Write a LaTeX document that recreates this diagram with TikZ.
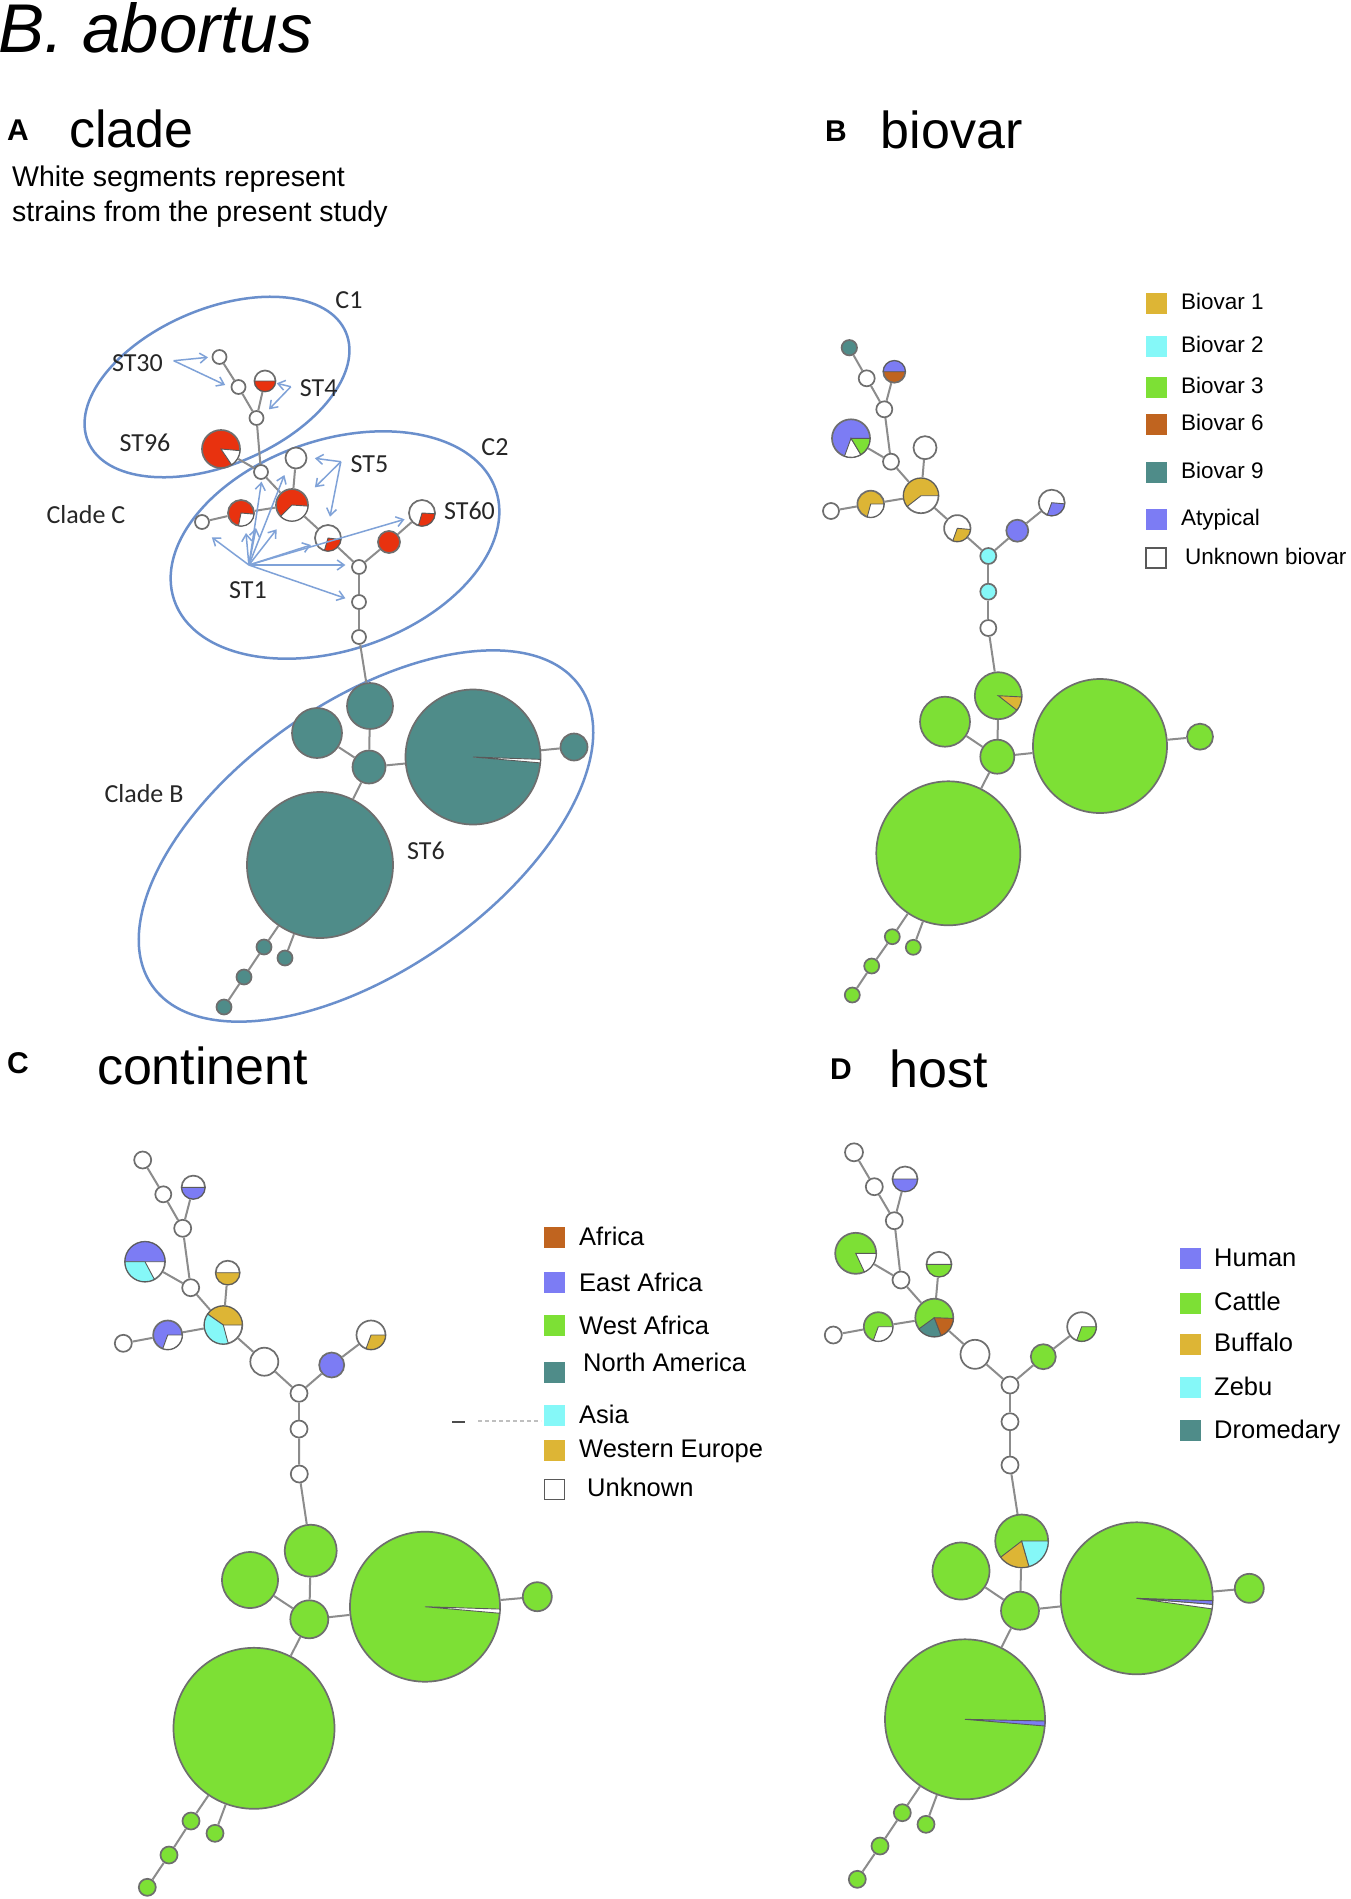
\documentclass[tikz,border=0pt]{standalone}
\usepackage{fontspec}
\setmainfont{Liberation Sans}
\newfontfamily\calib{Carlito}
\usetikzlibrary{arrows.meta}
\definecolor{cteal}{HTML}{4F8C89}
\definecolor{cgreen}{HTML}{7DE035}
\definecolor{cpurple}{HTML}{7C7CF4}
\definecolor{cgold}{HTML}{DDB535}
\definecolor{ccyan}{HTML}{85F8F8}
\definecolor{cbrown}{HTML}{C0641F}
\definecolor{cred}{HTML}{E8320F}
\definecolor{ellblue}{HTML}{6A8FCC}
\definecolor{arrblue}{HTML}{7FA2D8}
\definecolor{nodegray}{HTML}{6E6E6E}
\definecolor{edgegray}{HTML}{8C8C8C}
\newcommand\myfs[1]{\fontsize{#1}{#1}\selectfont}
\newcommand\nd[5]{\node[stnode, minimum size={2*#4pt}, fill=#5] (#1) at (#2,#3) {};}
\newcommand\slc[5]{\filldraw[fill=#5, draw=black!65, line width=0.9pt] (#1.center) -- ++(#3:#2) arc[start angle=#3, end angle=#4, radius=#2] -- cycle;}
\tikzset{
  stnode/.style={circle, draw=nodegray, line width=1.7pt, inner sep=0pt},
  edge/.style={draw=edgegray, line width=2pt},
  ell/.style={draw=ellblue, line width=2.5pt},
  arr/.style={draw=arrblue, line width=1.5pt, -{Straight Barb[length=7pt, width=10pt, line width=1.5pt]}},
  lab/.style={font=\calib\myfs{26}, inner sep=0pt, text=black!85},
  title/.style={font=\myfs{52}, inner sep=0pt, anchor=base west},
  letter/.style={font=\bfseries\myfs{30}, inner sep=0pt, anchor=base west},
  sq/.style={rectangle, minimum size=21pt, inner sep=0pt},
  legB/.style={font=\myfs{22.5}, inner sep=0pt, anchor=base west},
  legC/.style={font=\myfs{25.5}, inner sep=0pt, anchor=base west},
}
\begin{document}
\begin{tikzpicture}[x=1pt,y=1pt]
\useasboundingbox (0,0) rectangle (1350,-1899);
\fill[white] (0,0) rectangle (1350,-1899);

% ---------- titles ----------
\node[font=\itshape\myfs{69}, inner sep=0pt, anchor=base west] (maintitle) at (-2,-52) {B. abortus};
\node[letter] (lA) at (7,-140) {A};
\node[title] (tA) at (69,-147.6) {clade};
\node[font=\myfs{28.5}, inner sep=0pt, anchor=base west] (subA1) at (12,-186.3) {White segments represent};
\node[font=\myfs{28.5}, inner sep=0pt, anchor=base west] (subA2) at (12,-221.4) {strains from the present study};
\node[letter] (lB) at (825,-141.5) {B};
\node[title] (tB) at (880.7,-148.8) {biovar};
\node[letter] (lC) at (7,-1073) {C};
\node[title] (tC) at (96.8,-1084) {continent};
\node[letter] (lD) at (830,-1079) {D};
\node[title] (tD) at (889,-1087.5) {host};

% ---------- panel A ellipses ----------
\draw[ell, rotate around={23:(217,-387)}] (217,-387) ellipse [x radius=140, y radius=78];
\draw[ell, rotate around={19:(335,-545)}] (335,-545) ellipse [x radius=170, y radius=105];
\draw[ell, rotate around={35:(366,-836)}] (366,-836) ellipse [x radius=261, y radius=134];

% ---------- panel A nodes ----------
\nd{a1}{219.5}{-357}{7}{white}
\nd{a2}{238.5}{-387}{7}{white}
\nd{a3}{265}{-381}{10.5}{white}
\nd{a4}{256.5}{-418}{7}{white}
\nd{a5}{221}{-449}{19}{cred}
\nd{a6}{261}{-472}{7}{white}
\nd{a7}{296}{-458}{10.5}{white}
\nd{a8}{292}{-505}{16}{cred}
\nd{a9}{241}{-513}{13}{cred}
\nd{a10}{202}{-522}{7}{white}
\nd{a11}{328}{-538}{13}{white}
\nd{a12}{389}{-542}{11}{cred}
\nd{a13}{422}{-513}{13}{white}
\nd{a14}{359}{-567}{7}{white}
\nd{a15}{359}{-602}{7}{white}
\nd{a16}{359}{-637}{7}{white}
\nd{a17}{370}{-706}{23}{cteal}
\nd{a18}{317}{-733}{25}{cteal}
\nd{a19}{369}{-767}{16.5}{cteal}
\nd{a20}{473}{-757}{67.5}{cteal}
\nd{a21}{574}{-747}{13.5}{cteal}
\nd{a22}{320}{-865}{73}{cteal}
\nd{a23}{264}{-947}{7.5}{cteal}
\nd{a24}{285}{-958}{7.5}{cteal}
\nd{a25}{244}{-977}{7.5}{cteal}
\nd{a26}{224}{-1007}{7.5}{cteal}

% ---------- panel B nodes ----------
\nd{b1}{849.3}{-347.7}{7.7}{cteal}
\nd{b2}{866.7}{-378.3}{8}{white}
\nd{b3}{894.3}{-371.7}{11}{cbrown}
\nd{b4}{884.3}{-409.3}{8}{white}
\nd{b5}{851}{-438.3}{19}{cpurple}
\nd{b6}{891}{-461.7}{8}{white}
\nd{b7}{925}{-447.7}{11.5}{white}
\nd{b8}{921}{-495.7}{17.5}{white}
\nd{b9}{870.7}{-504}{13.3}{cgold}
\nd{b10}{831}{-511}{8}{white}
\nd{b11}{957.3}{-528.3}{13.2}{white}
\nd{b12}{1017.3}{-530.7}{11}{cpurple}
\nd{b13}{1051.7}{-502.7}{13}{white}
\nd{b14}{988.3}{-556}{8}{ccyan}
\nd{b15}{988.3}{-591.7}{8}{ccyan}
\nd{b16}{988.3}{-628}{8}{white}
\nd{b17}{998.3}{-695.7}{23.5}{cgreen}
\nd{b18}{945}{-721.7}{25}{cgreen}
\nd{b19}{997.3}{-756.7}{17}{cgreen}
\nd{b20}{1100}{-746}{67}{cgreen}
\nd{b21}{1200}{-736.7}{13}{cgreen}
\nd{b22}{948.3}{-853.3}{72}{cgreen}
\nd{b23}{892.3}{-936.7}{7.5}{cgreen}
\nd{b24}{913.3}{-947.3}{7.5}{cgreen}
\nd{b25}{871.7}{-966}{7.5}{cgreen}
\nd{b26}{852.3}{-995}{7.5}{cgreen}

% ---------- panel C nodes ----------
\nd{c1}{142.7}{-1160}{8.5}{white}
\nd{c2}{163.3}{-1194.3}{8}{white}
\nd{c3}{193.3}{-1187.3}{11.7}{white}
\nd{c4}{182.7}{-1228.3}{8.5}{white}
\nd{c5}{145}{-1261.7}{20}{white}
\nd{c6}{190.7}{-1287.7}{8.5}{white}
\nd{c7}{227.7}{-1272.7}{12}{white}
\nd{c8}{223.3}{-1325}{19}{white}
\nd{c9}{167.7}{-1335}{14.5}{cpurple}
\nd{c10}{123.3}{-1343.3}{8.5}{white}
\nd{c11}{264.3}{-1361.7}{14}{white}
\nd{c12}{331.7}{-1365}{12.5}{cpurple}
\nd{c13}{371}{-1335}{14.5}{white}
\nd{c14}{299}{-1393.3}{8.5}{white}
\nd{c15}{299}{-1429}{8.5}{white}
\nd{c16}{299.3}{-1474}{8.5}{white}
\nd{c17}{310.7}{-1550.7}{26}{cgreen}
\nd{c18}{250}{-1580}{28}{cgreen}
\nd{c19}{309.3}{-1619.3}{19}{cgreen}
\nd{c20}{425}{-1606.7}{75}{cgreen}
\nd{c21}{537.3}{-1596.7}{14.5}{cgreen}
\nd{c22}{254}{-1728.3}{80.5}{cgreen}
\nd{c23}{191}{-1821}{8.5}{cgreen}
\nd{c24}{215}{-1833.3}{8.5}{cgreen}
\nd{c25}{169}{-1855}{8.5}{cgreen}
\nd{c26}{147.3}{-1887.3}{8.5}{cgreen}

% ---------- panel D nodes ----------
\nd{d1}{854}{-1152.3}{9}{white}
\nd{d2}{874.3}{-1186.7}{8.5}{white}
\nd{d3}{905}{-1179}{12.5}{white}
\nd{d4}{894.3}{-1220.7}{8.5}{white}
\nd{d5}{855.7}{-1253.3}{20.5}{cgreen}
\nd{d6}{901}{-1280}{8.5}{white}
\nd{d7}{939}{-1264.3}{12.5}{white}
\nd{d8}{934.3}{-1317.7}{19}{cgreen}
\nd{d9}{878.3}{-1326.7}{14.5}{cgreen}
\nd{d10}{833.3}{-1335}{8.5}{white}
\nd{d11}{975}{-1354.3}{14.5}{white}
\nd{d12}{1043.3}{-1356.7}{12.5}{cgreen}
\nd{d13}{1081.7}{-1326.7}{14.5}{white}
\nd{d14}{1010}{-1385}{8.5}{white}
\nd{d15}{1010}{-1421.7}{8.5}{white}
\nd{d16}{1010}{-1465}{8.5}{white}
\nd{d17}{1021.7}{-1541}{26.5}{cgreen}
\nd{d18}{961}{-1571}{28.5}{cgreen}
\nd{d19}{1020}{-1610.7}{19}{cgreen}
\nd{d20}{1136.7}{-1598.3}{76}{cgreen}
\nd{d21}{1249.3}{-1588.3}{14.5}{cgreen}
\nd{d22}{965}{-1719.3}{80}{cgreen}
\nd{d23}{902.3}{-1812.7}{8.5}{cgreen}
\nd{d24}{926}{-1824.3}{8.5}{cgreen}
\nd{d25}{880}{-1846}{8.5}{cgreen}
\nd{d26}{857.3}{-1879.3}{8.5}{cgreen}

% ---------- edges (same tree in the four panels) ----------
\foreach \p in {a,b,c,d}{
  \foreach \u/\v in {1/2,2/4,3/4,4/6,5/6,6/8,7/8,8/9,9/10,8/11,11/14,12/14,12/13,14/15,15/16,16/17,17/19,18/19,19/20,20/21,19/22,22/23,23/25,25/26,22/24}{
    \draw[edge] (\p\u) -- (\p\v);
  }
}

% ---------- pie segments ----------
\slc{a3}{10.5}{180}{360}{cred}
\slc{a5}{19}{304}{355}{white}
\slc{a8}{16}{225}{356}{white}
\slc{a9}{13}{259}{355}{white}
\slc{a11}{13}{254}{353}{cred}
\slc{a13}{13}{254}{357}{cred}
\slc{a20}{67.5}{355}{358}{white}

\slc{b3}{11}{0}{180}{cpurple}
\slc{b5}{19}{250}{301}{white}
\slc{b5}{19}{301}{360}{cgreen}
\slc{b8}{17.5}{0}{218}{cgold}
\slc{b9}{13.3}{255}{360}{white}
\slc{b11}{13.2}{250}{355}{cgold}
\slc{b13}{13}{250}{355}{cpurple}
\slc{b17}{23.5}{322}{357}{cgold}

\slc{c3}{11.7}{180}{360}{cpurple}
\slc{c5}{20}{0}{180}{cpurple}
\slc{c5}{20}{180}{298}{ccyan}
\slc{c7}{12}{180}{360}{cgold}
\slc{c8}{19}{0}{145}{cgold}
\slc{c8}{19}{145}{285}{ccyan}
\slc{c9}{14.5}{250}{360}{white}
\slc{c13}{14.5}{250}{360}{cgold}
\slc{c20}{75}{355}{358.2}{white}

\slc{d3}{12.5}{180}{360}{cpurple}
\slc{d5}{20.5}{295}{360}{white}
\slc{d7}{12.5}{180}{360}{cgreen}
\slc{d8}{19}{216}{291}{cteal}
\slc{d8}{19}{291}{358}{cbrown}
\slc{d9}{14.5}{250}{360}{white}
\slc{d13}{14.5}{250}{360}{cgreen}
\slc{d17}{26.5}{217.6}{286}{cgold}
\slc{d17}{26.5}{286}{360}{ccyan}
\slc{d20}{76}{352}{355.5}{white}
\slc{d20}{76}{355.5}{358.2}{cpurple}
\slc{d22}{80}{355.2}{358.8}{cpurple}

% ---------- panel A labels ----------
\node[lab] (lC1) at (349,-300) {C1};
\node[lab] (lST30) at (137.4,-363.3) {ST30};
\node[lab] (lST4) at (318.7,-388.3) {ST4};
\node[lab] (lST96) at (145,-442.7) {ST96};
\node[lab] (lST5) at (369.5,-464) {ST5};
\node[lab] (lC2) at (495,-446.7) {C2};
\node[lab] (lCladeC) at (85.9,-515) {Clade C};
\node[lab] (lST60) at (469.5,-511) {ST60};
\node[lab] (lST1) at (248,-590) {ST1};
\node[lab] (lCladeB) at (144,-794) {Clade B};
\node[lab] (lST6) at (426,-851.3) {ST6};

% ---------- panel A arrows ----------
\coordinate (s30) at (173.7,-360.7);
\coordinate (e30a) at (208,-357.3);
\coordinate (e30b) at (225.2,-385);
\coordinate (s4) at (290.8,-386.7);
\coordinate (e4a) at (276.7,-383.3);
\coordinate (e4b) at (269,-409.3);
\coordinate (s5) at (340.8,-461.7);
\coordinate (e5a) at (314.9,-458.3);
\coordinate (e5b) at (314.9,-487.3);
\coordinate (e5c) at (330,-516.7);
\coordinate (s1) at (248.9,-565);
\coordinate (e1a) at (211.8,-537.3);
\coordinate (e1b) at (246,-533);
\coordinate (e1c) at (256,-528);
\coordinate (e1d) at (261.5,-481.7);
\coordinate (e1e) at (284.4,-475);
\coordinate (e1f) at (276.7,-529.3);
\coordinate (e1g) at (311,-545);
\coordinate (e1h) at (345.4,-565);
\coordinate (e1i) at (345.4,-598.3);
\coordinate (e1j) at (404.6,-519.3);
\foreach \e in {e30a,e30b}{\draw[arr] (s30) -- (\e);}
\foreach \e in {e4a,e4b}{\draw[arr] (s4) -- (\e);}
\foreach \e in {e5a,e5b,e5c}{\draw[arr] (s5) -- (\e);}
\foreach \e in {e1a,e1b,e1c,e1d,e1e,e1f,e1g,e1h,e1i,e1j}{\draw[arr] (s1) -- (\e);}

% ---------- legend B ----------
\node[sq, fill=cgold] (qb1) at (1156.5,-303.7) {};
\node[sq, fill=ccyan] (qb2) at (1156.5,-346.7) {};
\node[sq, fill=cgreen] (qb3) at (1156.5,-387) {};
\node[sq, fill=cbrown] (qb4) at (1156.5,-424.7) {};
\node[sq, fill=cteal] (qb5) at (1156.5,-472) {};
\node[sq, fill=cpurple] (qb6) at (1156.5,-519) {};
\node[sq, fill=white, draw=black!65, line width=1.7pt, minimum size=20pt] (qb7) at (1156,-558) {};
\node[legB] (tb1) at (1181,-309.5) {Biovar 1};
\node[legB] (tb2) at (1181,-352.5) {Biovar 2};
\node[legB] (tb3) at (1181,-393) {Biovar 3};
\node[legB] (tb4) at (1181,-430.5) {Biovar 6};
\node[legB] (tb5) at (1181,-478) {Biovar 9};
\node[legB] (tb6) at (1181,-525) {Atypical};
\node[legB] (tb7) at (1185,-564) {Unknown biovar};

% ---------- legend C ----------
\node[sq, fill=cbrown] (qc1) at (554.5,-1237) {};
\node[sq, fill=cpurple] (qc2) at (554.5,-1282) {};
\node[sq, fill=cgreen] (qc3) at (554.5,-1325.5) {};
\node[sq, fill=cteal] (qc4) at (554.5,-1372) {};
\node[sq, fill=ccyan] (qc5) at (554.5,-1415.5) {};
\node[sq, fill=cgold] (qc6) at (554.5,-1450.5) {};
\node[sq, fill=white, draw=black!65, line width=1.7pt, minimum size=20pt] (qc7) at (554.5,-1489.5) {};
\node[legC] (tc1) at (579,-1245) {Africa};
\node[legC] (tc2) at (579,-1291) {East Africa};
\node[legC] (tc3) at (579,-1334.3) {West Africa};
\node[legC] (tc4) at (583,-1371.7) {North America};
\node[legC] (tc5) at (579,-1423.3) {Asia};
\node[legC] (tc6) at (579,-1457.7) {Western Europe};
\node[legC] (tc7) at (587,-1496.7) {Unknown};
\coordinate (dashA) at (452,-1422);
\coordinate (dashB) at (465,-1422);
\coordinate (dotA) at (478,-1421);
\coordinate (dotB) at (541,-1421);
\draw[black!70, line width=2.5pt] (dashA) -- (dashB);
\draw[black!25, line width=1.5pt, dash pattern=on 4pt off 3pt] (dotA) -- (dotB);

% ---------- legend D ----------
\node[sq, fill=cpurple] (qd1) at (1190,-1258.8) {};
\node[sq, fill=cgreen] (qd2) at (1190,-1303) {};
\node[sq, fill=cgold] (qd3) at (1190,-1344.2) {};
\node[sq, fill=ccyan] (qd4) at (1190,-1387) {};
\node[sq, fill=cteal] (qd5) at (1190,-1430.3) {};
\node[legC] (td1) at (1214,-1266.7) {Human};
\node[legC] (td2) at (1214,-1310.7) {Cattle};
\node[legC] (td3) at (1214,-1351.7) {Buffalo};
\node[legC] (td4) at (1214,-1395) {Zebu};
\node[legC] (td5) at (1214,-1438.3) {Dromedary};
\end{tikzpicture}
\end{document}
